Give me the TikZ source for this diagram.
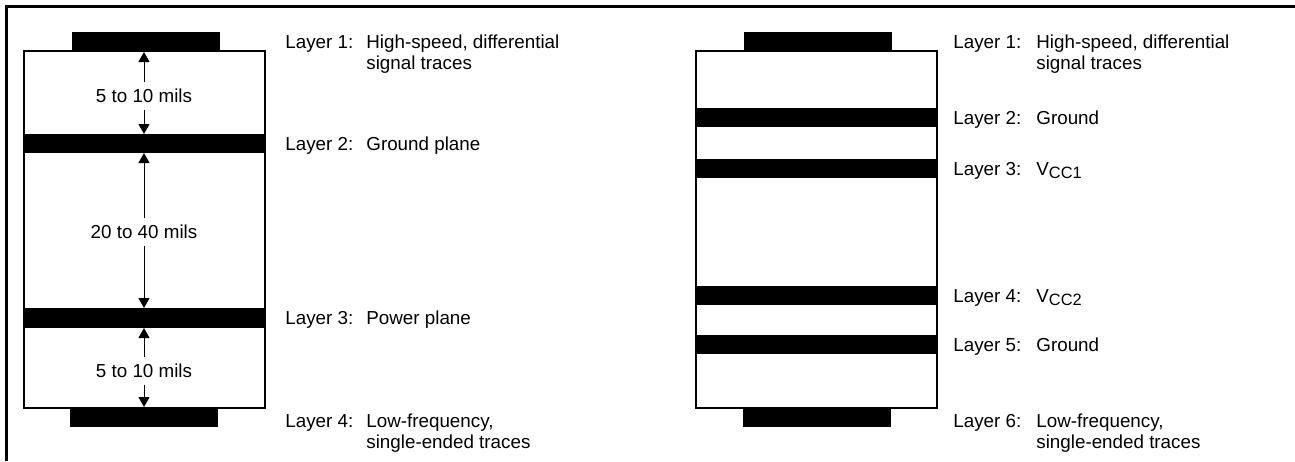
\documentclass[tikz,border=0pt]{standalone}
\usepackage{fontspec}
\setmainfont{Liberation Sans}
\usetikzlibrary{arrows.meta, positioning}
\tikzstyle{board}=[draw=black, line width=1pt, fill=white]
\tikzstyle{metal}=[fill=black]
\tikzstyle{lname}=[anchor=base west, inner sep=0pt,
  font=\fontsize{9.4}{10.5}\selectfont]
\tikzstyle{ldesc}=[lname, align=left]
\tikzstyle{dim}=[inner sep=0pt, minimum height=14pt,
  font=\fontsize{9.4}{10.5}\selectfont]
\tikzstyle{darr}=[-{Triangle[length=5pt, width=5.5pt]}, line width=0.5pt]
\newcommand{\vsub}[1]{V\raisebox{-0.35ex}{\fontsize{8.2}{8}\selectfont #1}}

\begin{document}
\begin{tikzpicture}[x=0.5pt, y=-0.5pt]
        \useasboundingbox (0,0) rectangle (1295,461);
        \draw[line width=1.5pt] (6,461) -- (6,6) -- (1295,6);
        % four-layer stack
        \draw[board] (24,51) rectangle (265,408);
        \fill[metal] (72,32) rectangle (220,51);
        \fill[metal] (24,134) rectangle (265,153);
        \fill[metal] (24,308) rectangle (265,328);
        \fill[metal] (70,408) rectangle (218,427);
        \coordinate (ta) at (144,52);
        \coordinate (gnda) at (144,134);
        \coordinate (gndb) at (144,153);
        \coordinate (pwra) at (144,308);
        \coordinate (pwrb) at (144,328);
        \coordinate (tb) at (144,407);
        \node[dim] (dtop) at (144,96) {5 to 10 mils};
        \node[dim] (dmid) at (144,232) {20 to 40 mils};
        \node[dim] (dbot) at (144,371) {5 to 10 mils};
        \draw[darr] (dtop) -- (ta);
        \draw[darr] (dtop) -- (gnda);
        \draw[darr] (dmid) -- (gndb);
        \draw[darr] (dmid) -- (pwra);
        \draw[darr] (dbot) -- (pwrb);
        \draw[darr] (dbot) -- (tb);
        \node[lname] (fa1) at (285,48) {Layer 1:};
        \node[ldesc] (fd1) at (366,69) {High-speed, differential\\signal traces};
        \node[lname] (fa2) at (285,150) {Layer 2:};
        \node[ldesc] (fd2) at (366,150) {Ground plane};
        \node[lname] (fa3) at (285,324) {Layer 3:};
        \node[ldesc] (fd3) at (366,324) {Power plane};
        \node[lname] (fa4) at (285,427) {Layer 4:};
        \node[ldesc] (fd4) at (366,448) {Low-frequency,\\single-ended traces};
        % six-layer stack
        \draw[board] (696,51) rectangle (937,408);
        \fill[metal] (744,32) rectangle (892,51);
        \fill[metal] (696,108) rectangle (937,127);
        \fill[metal] (696,159) rectangle (937,178);
        \fill[metal] (696,286) rectangle (937,305);
        \fill[metal] (696,335) rectangle (937,354);
        \fill[metal] (743,408) rectangle (891,427);
        \node[lname] (sa1) at (953,48) {Layer 1:};
        \node[ldesc] (sd1) at (1036,69) {High-speed, differential\\signal traces};
        \node[lname] (sa2) at (953,124) {Layer 2:};
        \node[ldesc] (sd2) at (1036,124) {Ground};
        \node[lname] (sa3) at (953,175) {Layer 3:};
        \node[ldesc] (sd3) at (1036,175) {\vsub{CC1}};
        \node[lname] (sa4) at (953,302) {Layer 4:};
        \node[ldesc] (sd4) at (1036,302) {\vsub{CC2}};
        \node[lname] (sa5) at (953,351) {Layer 5:};
        \node[ldesc] (sd5) at (1036,351) {Ground};
        \node[lname] (sa6) at (953,427) {Layer 6:};
        \node[ldesc] (sd6) at (1036,448) {Low-frequency,\\single-ended traces};
\end{tikzpicture}
\end{document}
